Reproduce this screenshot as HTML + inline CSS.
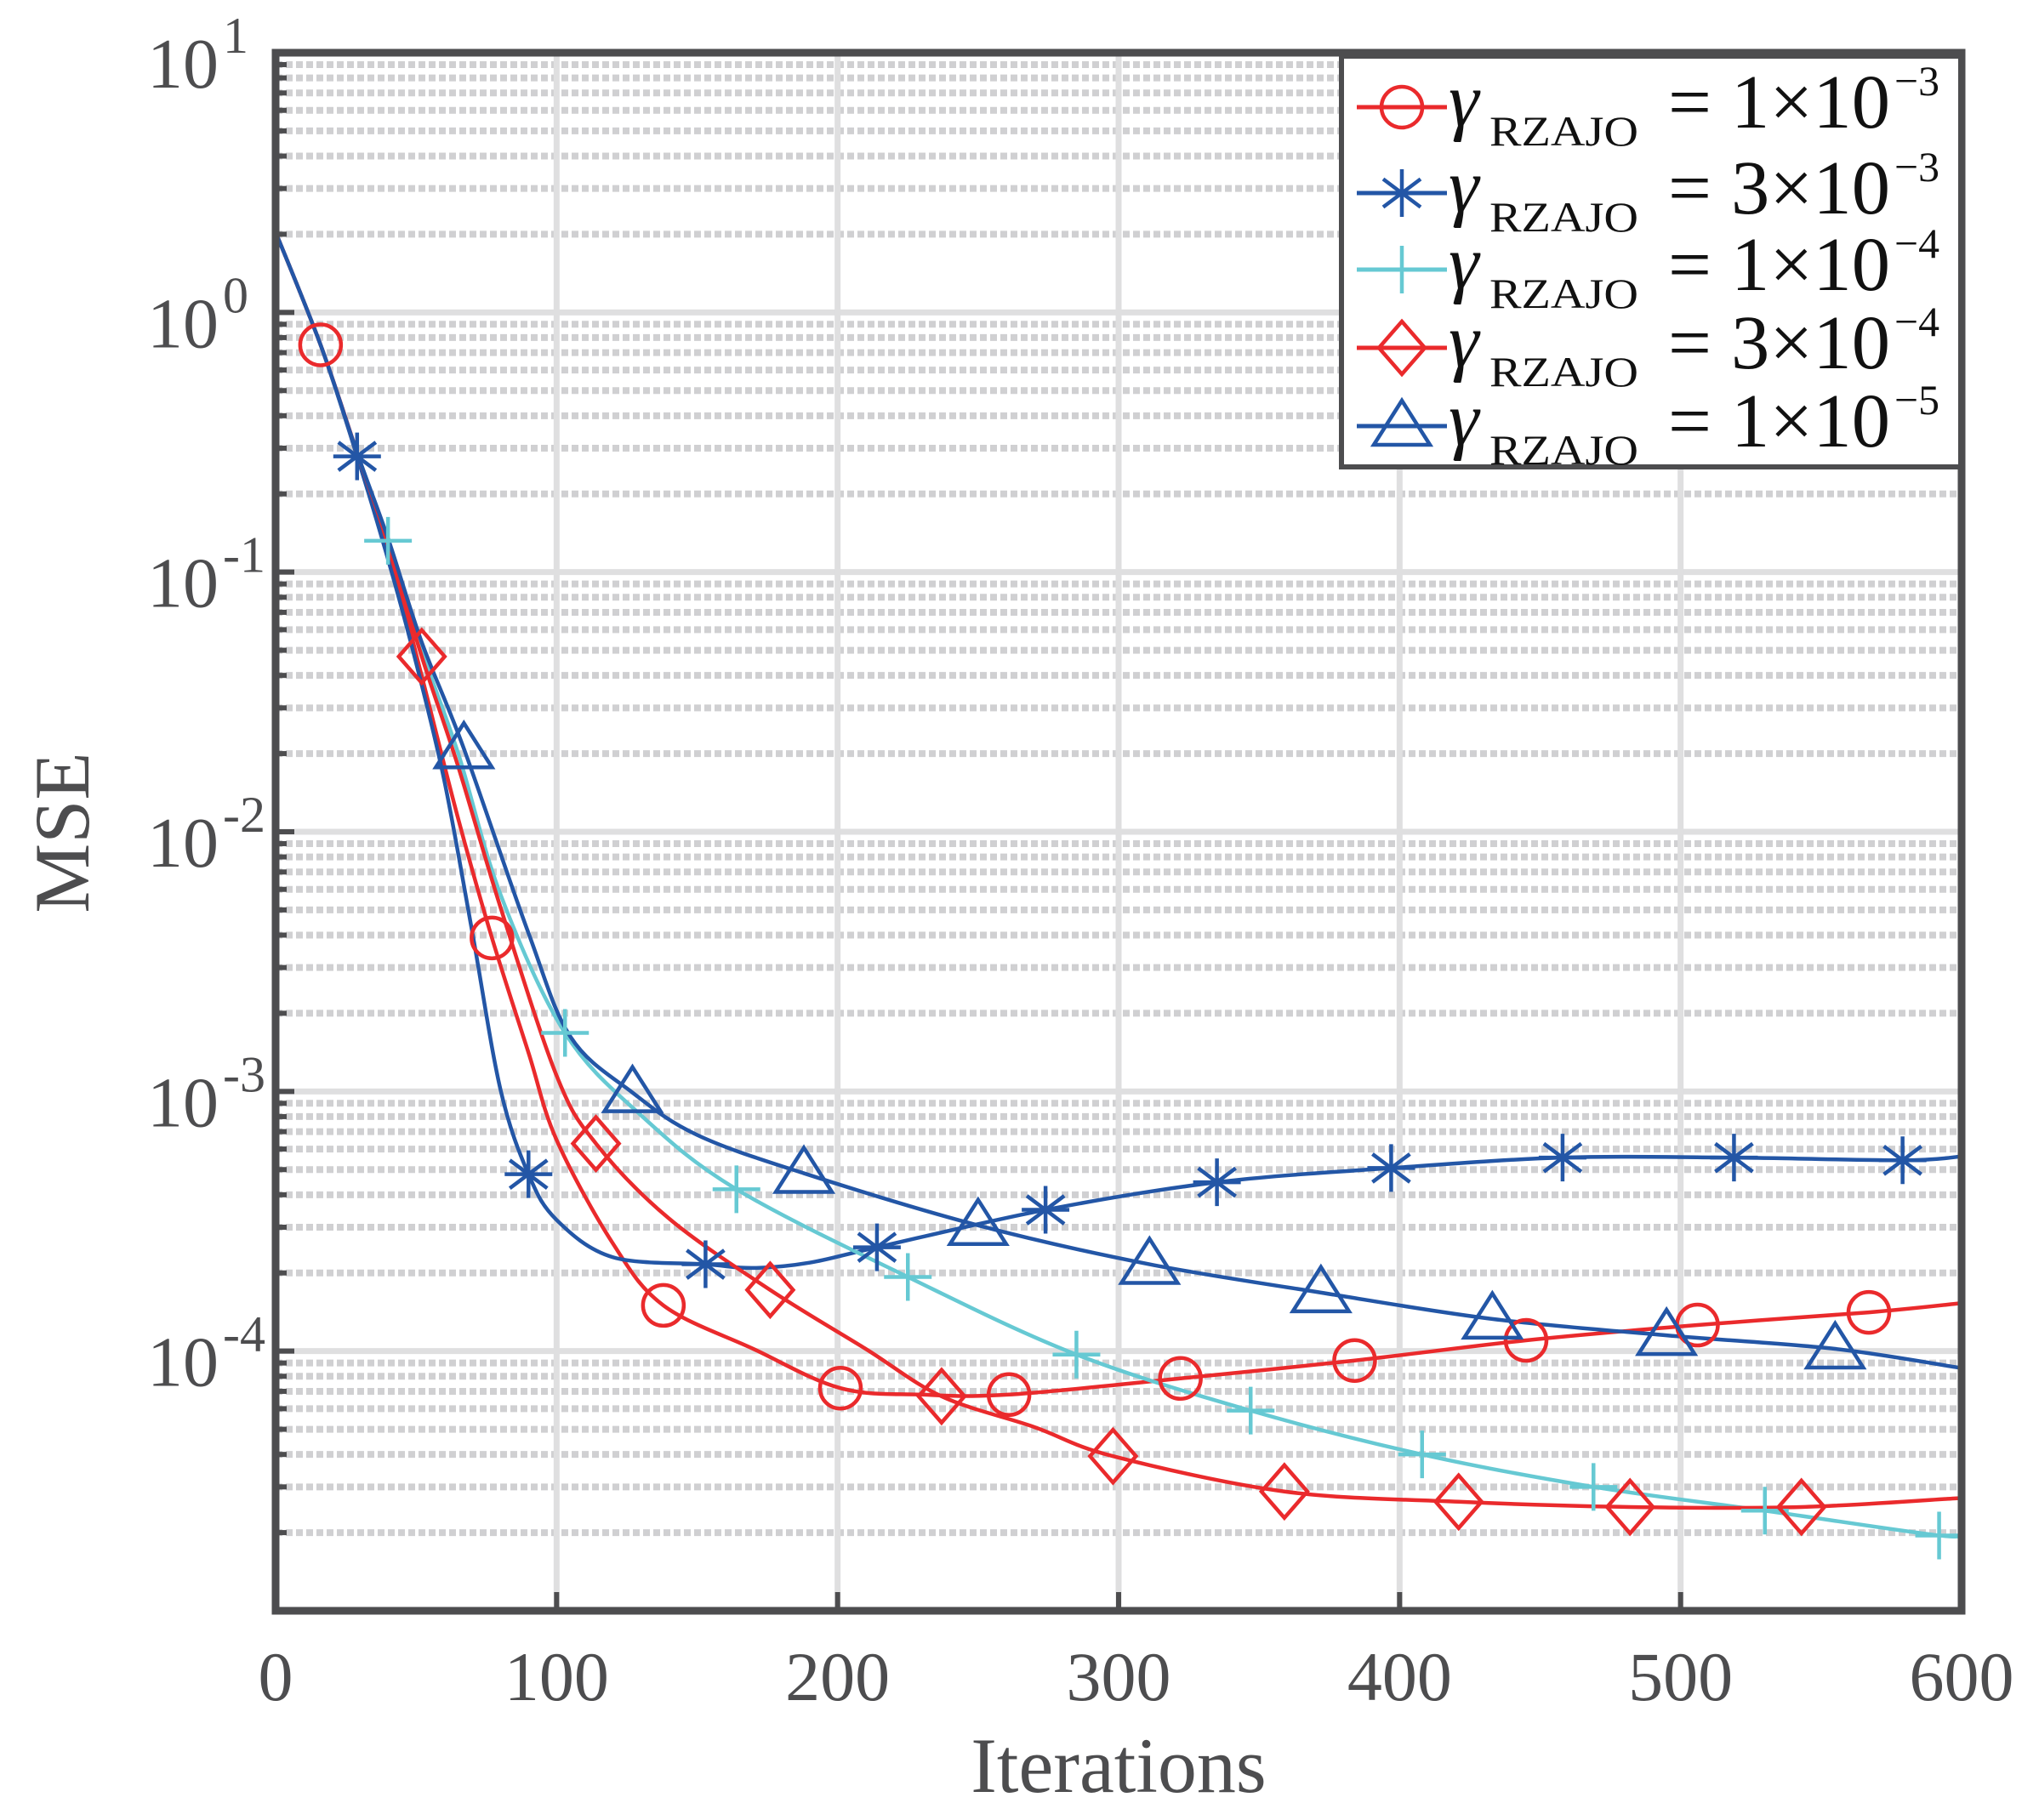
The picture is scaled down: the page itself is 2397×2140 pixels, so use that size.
<!DOCTYPE html>
<html><head><meta charset="utf-8"><style>
html,body{margin:0;padding:0;background:#fff;}
svg{display:block;font-family:"Liberation Serif",serif;}
</style></head><body>
<svg id="chart" xmlns="http://www.w3.org/2000/svg" width="2397" height="2140" viewBox="0 0 2397 2140">
<rect x="0" y="0" width="2397" height="2140" fill="#fff"/>
<g id="grid"></g>
<defs><clipPath id="clip"><rect x="324" y="62" width="1982" height="1832"/></clipPath></defs>
<g id="series" clip-path="url(#clip)"></g>
<g id="markers"></g>
<g id="axes"></g>
<text x="1315" y="2107" font-size="92" fill="#4d4d4f" text-anchor="middle">Iterations</text>
<text transform="translate(104,979) rotate(-90)" font-size="92" fill="#4d4d4f" text-anchor="middle">MSE</text>
<g id="legend"></g>
</svg>
<script>
// ---- data ----
const xTicks = [0,100,200,300,400,500,600];
const yTickExps = [1,0,-1,-2,-3,-4];
const seriesNames = ["1e-3","3e-3","1e-4","3e-4","1e-5"];
const legendMant = ["1","3","1","3","1"];
const legendExp = ["\u22123","\u22123","\u22124","\u22124","\u22125"];

const circleX = [0,16,29,40,52,65,77,90,100,120,138,170,201,230,261,322,384,445,506,567,600];
const circleY = [2.04,0.75,0.288,0.126,0.0398,0.0112,0.0039,0.00141,6.5e-4,2.6e-4,1.5e-4,1.02e-4,7.2e-5,6.8e-5,6.8e-5,7.85e-5,9.2e-5,1.1e-4,1.26e-4,1.41e-4,1.53e-4];
const circleMarkX = [16,77,138,201,261,322,384,445,506,567];

const starX = [0,16,29,40,50,60,70,80,90,100,120,153,170,190,214,274,335,397,458,519,579,600];
const starY = [2.04,0.75,0.279,0.112,0.0447,0.0158,0.0041,0.00102,4.8e-4,3.2e-4,2.3e-4,2.16e-4,2.09e-4,2.19e-4,2.51e-4,3.5e-4,4.47e-4,5.07e-4,5.56e-4,5.56e-4,5.43e-4,5.62e-4];
const starMarkX = [29,90,153,214,274,335,397,458,519,579];

const plusX = [0,16,29,40,52,65,80,103,130,164,225,285,347,408,469,530,592,600];
const plusY = [2.04,0.75,0.288,0.132,0.05,0.02,0.00575,0.00168,8.1e-4,4.2e-4,1.93e-4,9.7e-5,5.9e-5,4.0e-5,3.0e-5,2.43e-5,1.95e-5,2.0e-5];
const plusMarkX = [40,103,164,225,285,347,408,469,530,592];

const diamondX = [0,16,29,40,52,65,80,100,114,140,176,210,237,270,298,359,421,482,543,600];
const diamondY = [2.04,0.75,0.288,0.129,0.0473,0.0178,0.00513,0.00115,6.3e-4,3.24e-4,1.72e-4,1.02e-4,6.7e-5,5.1e-5,3.94e-5,2.88e-5,2.63e-5,2.51e-5,2.51e-5,2.72e-5];
const diamondMarkX = [52,114,176,237,298,359,421,482,543];

const triX = [0,16,29,40,52,67,90,105,127,150,188,250,311,372,433,495,555,600];
const triY = [2.04,0.75,0.288,0.135,0.0537,0.0209,0.00407,0.00162,9.9e-4,6.8e-4,4.84e-4,3.05e-4,2.16e-4,1.68e-4,1.33e-4,1.15e-4,1.02e-4,8.6e-5];
const triMarkX = [67,127,188,250,311,372,433,495,555];

// ---- layout ----
const L=324,R=2306,T=62,B=1894;
const NS="http://www.w3.org/2000/svg";
const RED="#ea2a2c", BLUE="#2356a6", CYAN="#66c9d3", AX="#4d4d4f";
function xs(v){return L+(v-0)/(600-0)*(R-L);}
function ys(v){return T+(1-Math.log10(v))/6*(B-T);}
function mk(tag,attrs,parent){const e=document.createElementNS(NS,tag);for(const k in attrs)e.setAttribute(k,attrs[k]);parent.appendChild(e);return e;}
function interp(xa,ya,x){for(let i=0;i<xa.length-1;i++){if(x>=xa[i]&&x<=xa[i+1]){const t=(x-xa[i])/(xa[i+1]-xa[i]);return Math.pow(10,Math.log10(ya[i])*(1-t)+Math.log10(ya[i+1])*t);}}return ya[ya.length-1];}

const grid=document.getElementById('grid');
for(let e=-5;e<1;e++){for(let m=2;m<=9;m++){const y=ys(m*Math.pow(10,e));
 const l=mk('line',{x1:L,x2:R,y1:y,y2:y,stroke:"#d0d0d2","stroke-width":8,"stroke-dasharray":"8 4"},grid);
 
 }}
yTickExps.forEach(e=>{const y=ys(Math.pow(10,e));
 const l=mk('line',{x1:L,x2:R,y1:y,y2:y,stroke:"#dfdfe0","stroke-width":7},grid);
 
 });
xTicks.forEach(v=>{const x=xs(v);
 const l=mk('line',{x1:x,x2:x,y1:T,y2:B,stroke:"#dfdfe0","stroke-width":7},grid);
 
 });

const sg=document.getElementById('series');
const defs=[
 {x:circleX,y:circleY,mx:circleMarkX,c:RED,m:'circle',name:'series-1e-3'},
 {x:starX,y:starY,mx:starMarkX,c:BLUE,m:'star',name:'series-3e-3'},
 {x:plusX,y:plusY,mx:plusMarkX,c:CYAN,m:'plus',name:'series-1e-4'},
 {x:diamondX,y:diamondY,mx:diamondMarkX,c:RED,m:'diamond',name:'series-3e-4'},
 {x:triX,y:triY,mx:triMarkX,c:BLUE,m:'triangle',name:'series-1e-5'}];
function pathFor(xa,ya){const p=xa.map((v,i)=>[xs(v),ys(ya[i])]);let d="M"+p[0][0]+","+p[0][1];
 for(let i=0;i<p.length-1;i++){const p0=p[Math.max(0,i-1)],p1=p[i],p2=p[i+1],p3=p[Math.min(p.length-1,i+2)];
  const c1=[p1[0]+(p2[0]-p0[0])/6,p1[1]+(p2[1]-p0[1])/6],c2=[p2[0]-(p3[0]-p1[0])/6,p2[1]-(p3[1]-p1[1])/6];
  d+=" C"+c1[0]+","+c1[1]+" "+c2[0]+","+c2[1]+" "+p2[0]+","+p2[1];}return d;}
function drawMarker(type,cx,cy,c,g){
 const sw=4.5;let e;
 if(type==='circle'){e=mk('circle',{cx:cx,cy:cy,r:24,fill:"none",stroke:c,"stroke-width":sw},g);}
 else if(type==='diamond'){e=mk('polygon',{points:`${cx},${cy-31} ${cx+27},${cy} ${cx},${cy+31} ${cx-27},${cy}`,fill:"none",stroke:c,"stroke-width":sw},g);}
 else if(type==='triangle'){e=mk('polygon',{points:`${cx},${cy-30} ${cx+33},${cy+22} ${cx-33},${cy+22}`,fill:"none",stroke:c,"stroke-width":sw},g);}
 else if(type==='plus'){e=mk('path',{d:`M${cx-28},${cy}H${cx+28}M${cx},${cy-28}V${cy+28}`,fill:"none",stroke:c,"stroke-width":sw},g);}
 else {const r=28,rd=22;e=mk('path',{d:`M${cx-r},${cy}H${cx+r}M${cx},${cy-r}V${cy+r}M${cx-rd},${cy-rd*0.75}L${cx+rd},${cy+rd*0.75}M${cx-rd},${cy+rd*0.75}L${cx+rd},${cy-rd*0.75}`,fill:"none",stroke:c,"stroke-width":sw},g);}
 return e;}
const mg=document.getElementById('markers');
defs.forEach(s=>{
 const p=mk('path',{d:pathFor(s.x,s.y),fill:"none",stroke:s.c,"stroke-width":4.5,"stroke-linejoin":"round"},sg);
 
 
 s.mx.forEach(xv=>{const e=drawMarker(s.m,xs(xv),ys(interp(s.x,s.y,xv)),s.c,mg);
  
  });
});

const ax=document.getElementById('axes');
const frame=mk('rect',{x:L,y:T,width:R-L,height:B-T,fill:"none",stroke:AX,"stroke-width":9},ax);


for(let e=-5;e<1;e++){for(let m=2;m<=9;m++){const y=ys(m*Math.pow(10,e));
 const t=mk('line',{x1:L,x2:L+13,y1:y,y2:y,stroke:AX,"stroke-width":6},ax);
 
 }}
yTickExps.forEach(e=>{const y=ys(Math.pow(10,e));
 const t=mk('line',{x1:L,x2:L+22,y1:y,y2:y,stroke:AX,"stroke-width":6},ax);
 
 
 const tx=mk('text',{x:257,y:y+41,"font-size":84,fill:AX,"text-anchor":"end"},ax);
 tx.textContent="10";
 
 
 const sp=mk('text',{x:262,y:y,"font-size":60,fill:AX,"text-anchor":"start"},ax);
 sp.textContent=e<0?"-"+(-e):String(e);
 
 });
xTicks.forEach(v=>{const x=xs(v);
 const t=mk('line',{x1:x,x2:x,y1:B,y2:B-22,stroke:AX,"stroke-width":6},ax);
 
 
 const tx=mk('text',{x:x,y:1999,"font-size":82,fill:AX,"text-anchor":"middle"},ax);
 tx.textContent=String(v);
 
 });

// legend
const lg=document.getElementById('legend');
const box=mk('rect',{x:1577,y:66,width:728,height:483,fill:"#fff",stroke:AX,"stroke-width":6},lg);


const ly=[126,227,317,409,501];
defs.forEach((s,i)=>{const y=ly[i];
 const g=mk('g',{},lg);
 
 
 mk('line',{x1:1595,x2:1701,y1:y,y2:y,stroke:s.c,"stroke-width":5},g);
 drawMarker(s.m,1648,y,s.c,g);
 const gm=mk('text',{x:1703,y:y+22,"font-size":90,"font-style":"italic",fill:"#111"},g);
 gm.textContent="\u03b3";
 const sb=mk('text',{x:1751,y:y+45,"font-size":50,fill:"#111",textLength:175,lengthAdjust:"spacingAndGlyphs"},g);
 sb.textContent="RZAJO";
 const eq=mk('text',{x:1961,y:y+24,"font-size":90,fill:"#111",textLength:51,lengthAdjust:"spacingAndGlyphs"},g);
 eq.textContent="=";
 const mn=mk('text',{x:2035,y:y+24,"font-size":90,fill:"#111",textLength:187,lengthAdjust:"spacingAndGlyphs"},g);
 mn.textContent=legendMant[i]+"\u00d710";
 const ex=mk('text',{x:2227,y:y-14,"font-size":50,fill:"#111",textLength:53,lengthAdjust:"spacingAndGlyphs"},g);
 ex.textContent=legendExp[i];
});
</script>
</body></html>
